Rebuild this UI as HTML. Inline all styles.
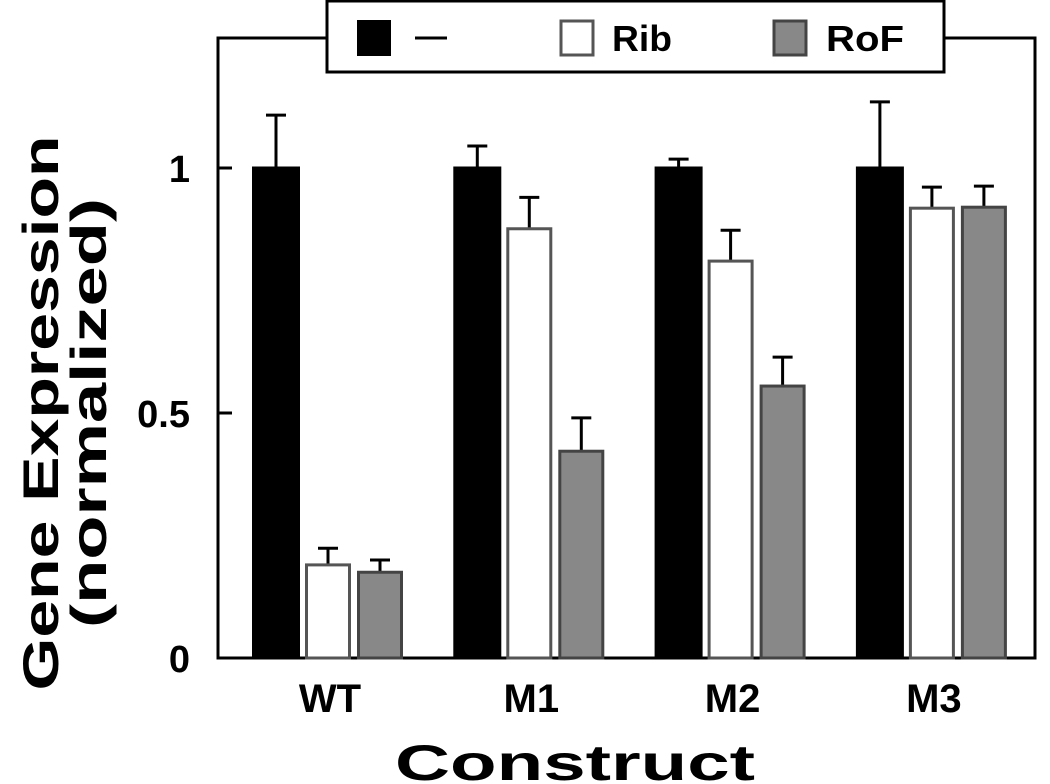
<!DOCTYPE html>
<html><head><meta charset="utf-8"><style>
body{margin:0;background:#fff;}
svg{display:block;font-family:"Liberation Sans",sans-serif;font-weight:bold;}
</style></head><body>
<svg id="chart" width="1050" height="784" viewBox="0 0 1050 784">
<rect x="218" y="38" width="817" height="620" fill="none" stroke="#000" stroke-width="3"/>
<g id="ticks"></g>
<g id="bars"></g>
<text x="575" y="780" font-size="50" text-anchor="middle" textLength="360" lengthAdjust="spacingAndGlyphs">Construct</text>
<text transform="translate(0,413) rotate(-90)" font-size="50" text-anchor="middle"><tspan x="0" y="58" textLength="555" lengthAdjust="spacingAndGlyphs">Gene Expression</tspan><tspan x="0" y="106" textLength="430" lengthAdjust="spacingAndGlyphs">(normalized)</tspan></text>
<g>
<rect x="327" y="1" width="617" height="71" fill="#fff" stroke="#000" stroke-width="3"/>
<rect x="357" y="20" width="34" height="36" fill="#000"/>
<line x1="415" y1="38" x2="447" y2="38" stroke="#000" stroke-width="3"/>
<rect x="561" y="21" width="32" height="34" fill="#fff" stroke="#555" stroke-width="3"/>
<text x="612" y="51" font-size="36" textLength="60" lengthAdjust="spacingAndGlyphs">Rib</text>
<rect x="774" y="21" width="32" height="34" fill="#888" stroke="#444" stroke-width="3"/>
<text x="826" y="51" font-size="36" textLength="78" lengthAdjust="spacingAndGlyphs">RoF</text>
</g>
</svg>
<script>
const categories=["WT","M1","M2","M3"];
const noneVals=[1,1,1,1];
const noneErr=[0.108,0.045,0.018,0.135];
const ribVals=[0.19,0.876,0.81,0.918];
const ribErr=[0.034,0.064,0.063,0.043];
const rofVals=[0.175,0.422,0.555,0.92];
const rofErr=[0.025,0.068,0.059,0.043];
const yTicks=[0,0.5,1];
const yTickLabels=["0","0.5","1"];
const NS="http://www.w3.org/2000/svg";
function y(v){return 658-v*490;}
function gx(i){return 252+i*201.3;}
function mk(tag,attrs,parent){const e=document.createElementNS(NS,tag);for(const k in attrs)e.setAttribute(k,attrs[k]);parent.appendChild(e);return e;}
const tg=document.getElementById('ticks');
yTicks.forEach((t,i)=>{
 const l=mk('line',{x1:218,x2:232,y1:y(t),y2:y(t),stroke:'#000','stroke-width':3},tg);
 
 
 const tx=mk('text',{x:190,y:y(t)+14,'font-size':38,'text-anchor':'end'},tg);
 tx.textContent=yTickLabels[i];
 
 
});
const bg=document.getElementById('bars');
const series=[[noneVals,noneErr,'#000','#000',0,48,'none'],[ribVals,ribErr,'#fff','#555',53,46,'rib'],[rofVals,rofErr,'#888','#444',105,46,'rof']];
categories.forEach((c,i)=>{
 const x0=gx(i);
 series.forEach(s=>{
  const v=s[0][i],e=s[1][i],x=x0+s[4],w=s[5];
  const cx=x+w/2;
  const el=mk('line',{x1:cx,x2:cx,y1:y(v),y2:y(v+e),stroke:'#000','stroke-width':3},bg);
  
  
  const cap=mk('line',{x1:cx-10,x2:cx+10,y1:y(v+e),y2:y(v+e),stroke:'#000','stroke-width':3},bg);
  
  
  const r=mk('rect',{x:x+1.5,y:y(v),width:w-3,height:658-y(v),fill:s[2],stroke:s[3],'stroke-width':3},bg);
  
  
 });
 const t=mk('text',{x:x0+78,y:712,'font-size':40,'text-anchor':'middle'},bg);
 t.textContent=c;
 
 
});
</script>
</body></html>
